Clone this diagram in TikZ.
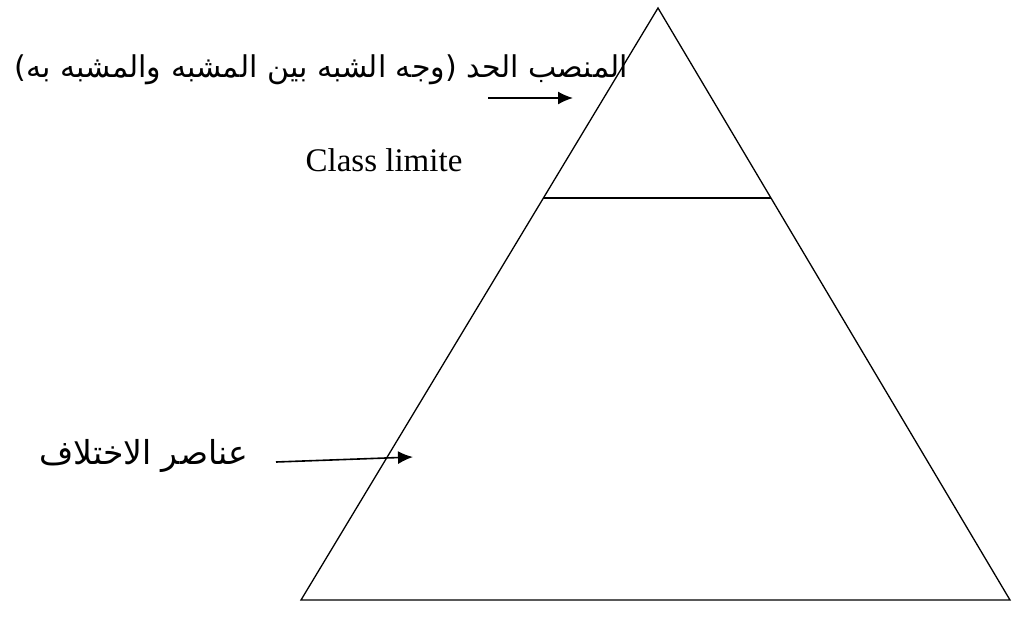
\documentclass[tikz,border=0pt]{standalone}
\usepackage{fontspec}
\usetikzlibrary{calc,arrows.meta}
\setmainfont{Liberation Serif}
\newfontfamily\arabicfont[Script=Arabic]{DejaVu Sans}
\TeXXeTstate=1
\begin{document}
\begin{tikzpicture}[x=1pt,y=-1pt,
  edge/.style={line width=1.3pt},
  arr/.style={line width=1.6pt,-{Latex[length=15pt,width=13pt]}},
  ar/.style={font=\arabicfont\fontsize{30}{34}\selectfont, inner sep=0pt},
  lat/.style={font=\fontsize{33}{38}\selectfont, inner sep=0pt}]
\useasboundingbox (0,0) rectangle (1013,630);
\coordinate (apex) at (658,8);
\coordinate (bl) at (301,600);
\coordinate (br) at (1010,600);
\draw[edge] (apex) -- (bl) -- (br) -- cycle;
\coordinate (ml) at ($(apex)!0.321!(bl)$);
\coordinate (mr) at ($(apex)!0.321!(br)$);
\draw[edge] (ml) -- (mr);
\node[ar, anchor=east] (t1) at (628,70) {\beginR المنصب الحد (وجه الشبه بين المشبه والمشبه به)\endR};
\coordinate (a1s) at (488,98);
\coordinate (a1e) at (573,98);
\draw[arr] (a1s) -- (a1e);
\node[lat] (cl) at (384,160) {Class limite};
\node[ar, anchor=east, font=\arabicfont\fontsize{33}{37}\selectfont] (t2) at (248,456) {\beginR عناصر الاختلاف\endR};
\coordinate (a2s) at (276,462);
\coordinate (a2e) at (413,457);
\draw[arr] (a2s) -- (a2e);
\end{tikzpicture}
\end{document}
